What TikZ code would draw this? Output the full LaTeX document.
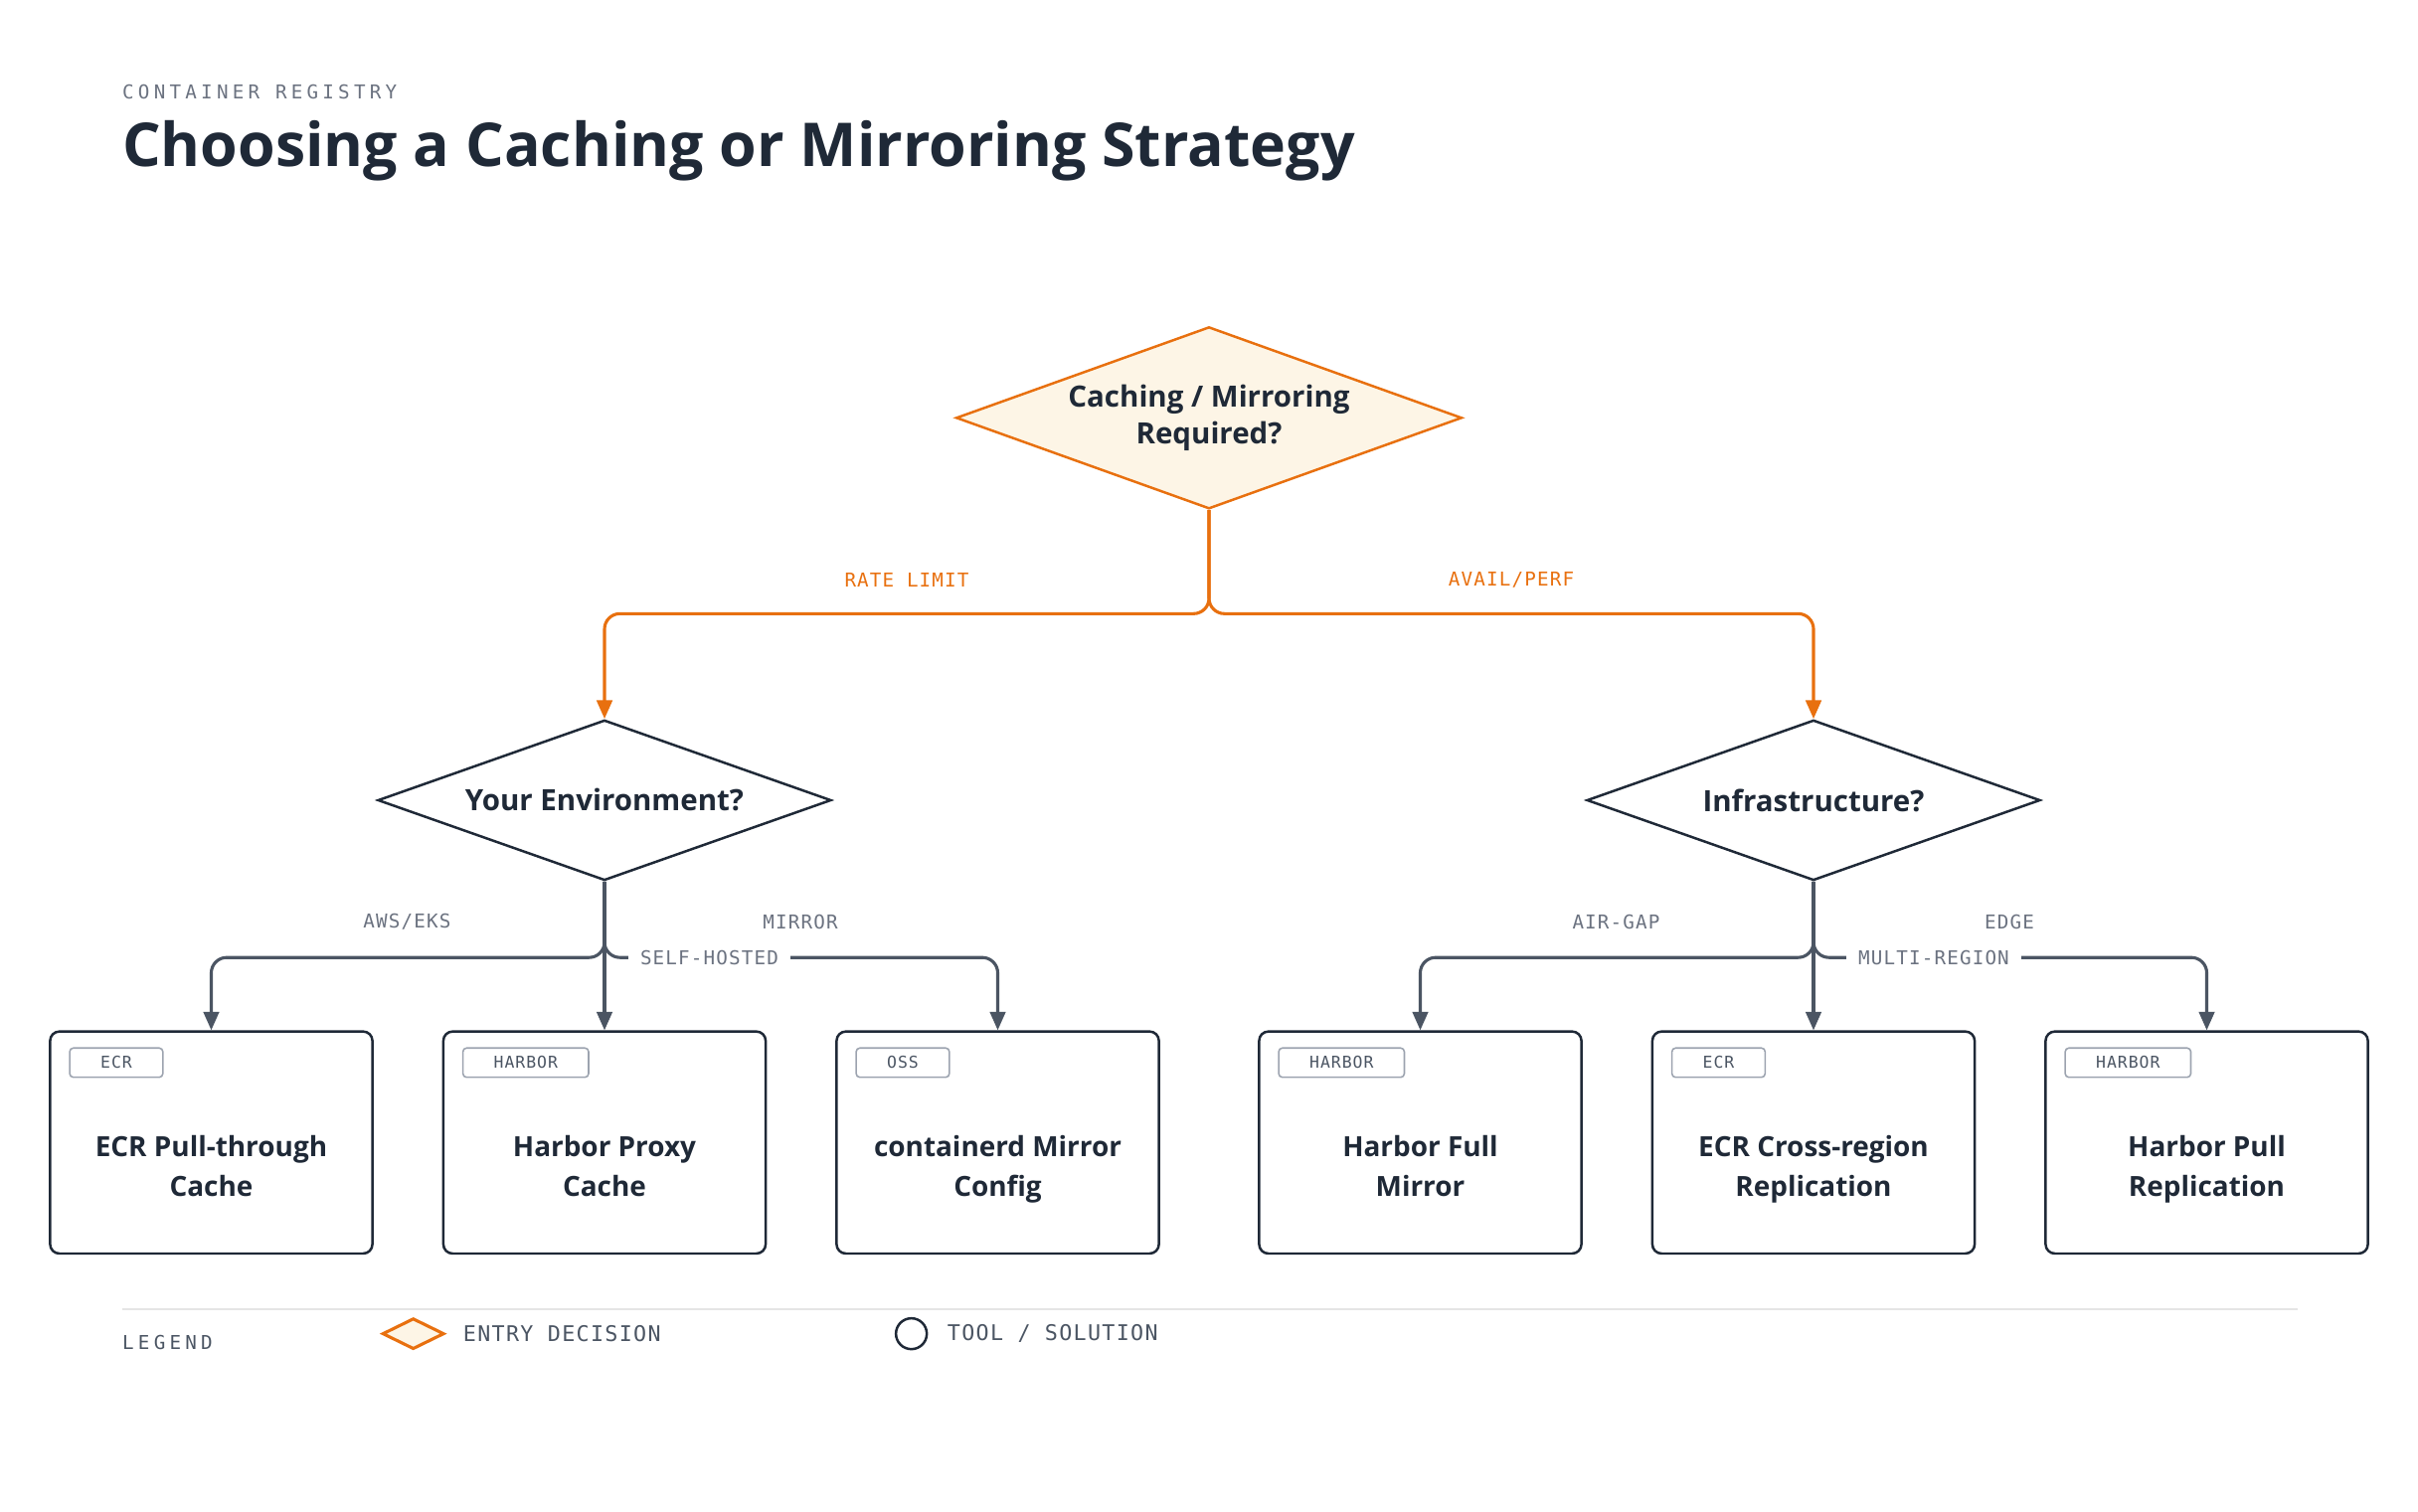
\documentclass[tikz,border=0pt]{standalone}
\usepackage{fontspec}
\setmainfont{Open Sans}
\newfontfamily\mono[LetterSpace=6]{DejaVu Sans Mono}
\newfontfamily\monob[LetterSpace=22]{DejaVu Sans Mono}
\usetikzlibrary{shapes.geometric,arrows.meta}
\definecolor{ink}{HTML}{1F2937}
\definecolor{org}{HTML}{E8700F}
\definecolor{cream}{HTML}{FDF5E6}
\definecolor{gry}{HTML}{4B5563}
\definecolor{lbl}{HTML}{6B7280}
\definecolor{tagc}{HTML}{9CA3AF}
\begin{document}
\begin{tikzpicture}[x=0.5pt,y=-0.5pt,
  dec/.style={diamond,draw=ink,line width=0.8pt,fill=white,aspect=2.8,inner sep=0pt,
    minimum width=147pt,minimum height=52pt,align=center,font=\bfseries\fontsize{9.5}{12}\selectfont,text=ink},
  box/.style={draw=ink,line width=0.8pt,rounded corners=3pt,minimum width=104.5pt,minimum height=72pt},
  btxt/.style={align=center,font=\bfseries\fontsize{9}{13}\selectfont,text=ink,inner sep=0pt},
  tag/.style={draw=tagc,line width=0.5pt,rounded corners=1.2pt,minimum height=9.5pt,inner ysep=0pt,inner xsep=10pt,
    font=\mono\fontsize{5.3}{6}\selectfont,text=gry},
  ob/.style={draw=org,line width=1pt,rounded corners=5pt,-{Triangle[length=6pt,width=5pt]}},
  gb/.style={draw=gry,line width=1pt,rounded corners=5pt,-{Triangle[length=6pt,width=5pt]}},
  elab/.style={font=\mono\fontsize{6.2}{7}\selectfont,text=lbl},
  olab/.style={font=\mono\fontsize{6.2}{7}\selectfont,text=org}]
\useasboundingbox (0,0) rectangle (1568,980);
\node[anchor=base west,inner sep=0pt,font=\monob\fontsize{6.2}{7}\selectfont,text=lbl] (kick) at (79,64) {CONTAINER REGISTRY};
\node[anchor=base west,inner sep=0pt,font=\bfseries\fontsize{19.6}{24}\selectfont,text=ink] (title) at (79,108) {Choosing a Caching or Mirroring Strategy};

\node[dec,draw=org,fill=cream,minimum width=164pt,minimum height=59pt] (top) at (784,271) {Caching / Mirroring\\Required?};
\node[dec] (env) at (392,519) {Your Environment?};
\node[dec] (inf) at (1176,519) {Infrastructure?};

\coordinate (j0) at (784,398);
\draw[ob] (top.south) -- (j0) -| (env.north);
\draw[ob] (top.south) -- (j0) -| (inf.north);
\node[olab] (rl) at (588,376) {RATE LIMIT};
\node[olab] (ap) at (980,376) {AVAIL/PERF};

\foreach \n/\x/\t/\a/\b in {b1/137/ECR/ECR Pull-through/Cache, b2/392/HARBOR/Harbor Proxy/Cache, b3/647/OSS/containerd Mirror/Config,
  b4/921/HARBOR/Harbor Full/Mirror, b5/1176/ECR/ECR Cross-region/Replication, b6/1431/HARBOR/Harbor Pull/Replication}{
  \node[box] (\n) at (\x,741) {};
  \node[btxt] (\n t) at (\x,758) {\strut\a\\\strut\b};
  \node[tag,anchor=north west] (\n g) at ([xshift=6.5pt,yshift=-5.5pt]\n.north west) {\t};
}

\coordinate (j1) at (392,621);
\coordinate (j2) at (1176,621);
\draw[gb] (env.south) -- (j1) -| (b1.north);
\draw[gb] (env.south) -- (b2.north);
\draw[gb] (env.south) -- (j1) -| (b3.north);
\draw[gb] (inf.south) -- (j2) -| (b4.north);
\draw[gb] (inf.south) -- (b5.north);
\draw[gb] (inf.south) -- (j2) -| (b6.north);
\node[elab] at (264,598) {AWS/EKS};
\node[elab] at (519,598) {MIRROR};
\node[elab,fill=white,inner xsep=4pt] at (460,621) {SELF-HOSTED};
\node[elab] at (1048,598) {AIR-GAP};
\node[elab] at (1303,598) {EDGE};
\node[elab,fill=white,inner xsep=4pt] at (1254,621) {MULTI-REGION};

\draw[draw=black!10,line width=0.8pt] (79,849) -- (1490,849);
\node[anchor=base west,inner sep=0pt,font=\monob\fontsize{6.2}{7}\selectfont,text=gry] (leg) at (79,875) {LEGEND};
\node[diamond,draw=org,fill=cream,line width=1pt,aspect=2,minimum width=20pt,minimum height=10pt,inner sep=0pt] (ld) at (268,865) {};
\node[anchor=west,inner sep=0pt,font=\mono\fontsize{7}{8}\selectfont,text=gry] (lt1) at (300,865) {ENTRY DECISION};
\node[circle,draw=ink,line width=0.8pt,minimum size=10pt,inner sep=0pt] (lc) at (591,865) {};
\node[anchor=west,inner sep=0pt,font=\mono\fontsize{7}{8}\selectfont,text=gry] (lt2) at (614,865) {TOOL / SOLUTION};
\end{tikzpicture}
\end{document}
